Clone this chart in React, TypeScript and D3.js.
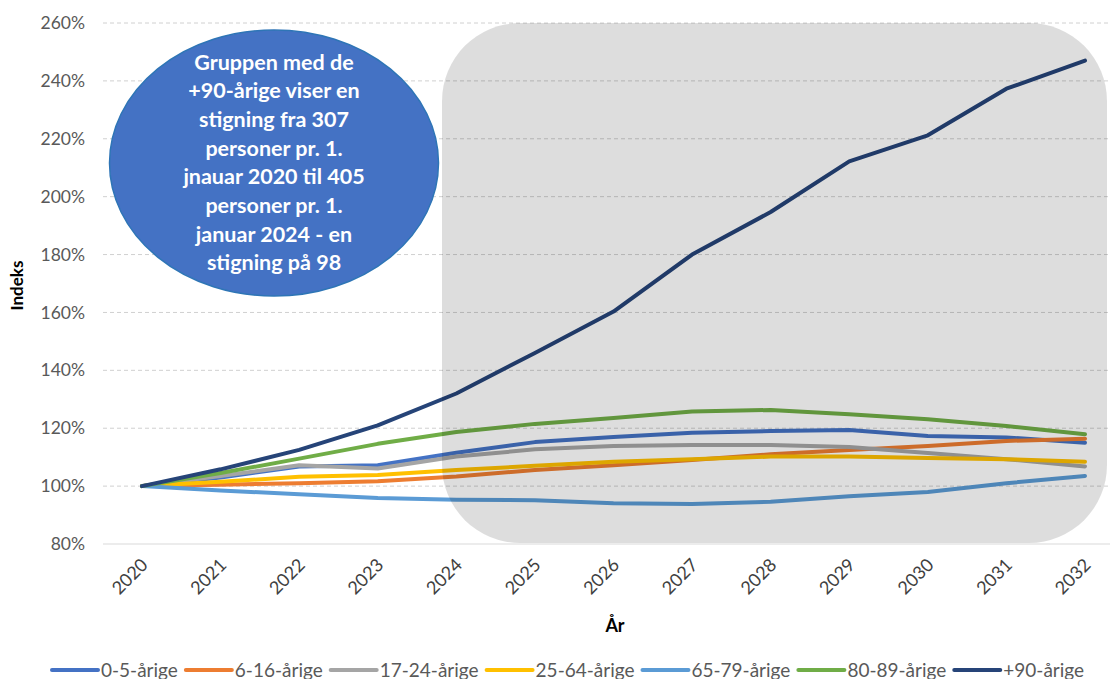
import React, { useEffect, useRef } from 'react';
import * as d3 from 'd3';

const years = ['2020', '2021', '2022', '2023', '2024', '2025', '2026', '2027', '2028', '2029', '2030', '2031', '2032'];

const yTicks = [80, 100, 120, 140, 160, 180, 200, 220, 240, 260];

const seriesNames = ['0-5-årige', '6-16-årige', '17-24-årige', '25-64-årige', '65-79-årige', '80-89-årige', '+90-årige'];
const seriesColors = ['#4472C4', '#ED7D31', '#A5A5A5', '#FFC000', '#5B9BD5', '#70AD47', '#264478'];

const age0to5 = [100, 103, 106.8, 107.2, 111.5, 115.2, 117, 118.4, 119, 119.4, 117.3, 116.8, 115];
const age6to16 = [100, 100.5, 101, 101.7, 103.3, 105.6, 107.2, 109, 111, 112.5, 113.9, 115.6, 116.4];
const age17to24 = [100, 103.5, 107.2, 106.1, 110.2, 112.7, 113.9, 114.2, 114.2, 113.5, 111.4, 109.3, 106.8];
const age25to64 = [100, 101.5, 103.2, 103.8, 105.6, 107, 108.4, 109.3, 110.2, 110.2, 109.7, 109.3, 108.4];
const age65to79 = [100, 98.5, 97.2, 95.9, 95.3, 95.1, 94.1, 93.8, 94.6, 96.5, 98, 101, 103.5];
const age80to89 = [100, 104.5, 109.5, 114.6, 118.7, 121.5, 123.5, 125.8, 126.3, 124.8, 123.1, 120.8, 117.9];
const age90plus = [100, 105.8, 112.5, 121, 132, 146, 160.3, 180, 194.7, 212.2, 221.2, 237.3, 247];

const annotationLines = [
  'Gruppen med de',
  '+90-årige viser en',
  'stigning fra 307',
  'personer pr. 1.',
  'jnauar 2020 til 405',
  'personer pr. 1.',
  'januar 2024 - en',
  'stigning på 98',
];

const W = 1110;
const H = 679;
const FONT = 'Lato, "Open Sans", sans-serif';

export default function App() {
  const ref = useRef<SVGSVGElement>(null);

  useEffect(() => {
    if (!ref.current) return;
    const svg = d3.select(ref.current);
    svg.selectAll('*').remove();

    const allSeries = [age0to5, age6to16, age17to24, age25to64, age65to79, age80to89, age90plus];

    const plotLeft = 103;
    const plotRight = 1124;
    const plotTop = 23;
    const plotBottom = 544;

    const x = d3.scalePoint<string>().domain(years).range([142, 1085]);
    const y = d3.scaleLinear().domain([80, 260]).range([plotBottom, plotTop]);

    svg.append('rect').attr('width', W).attr('height', H).attr('fill', '#fff');

    // grid
    svg
      .append('g')
      .selectAll('line')
      .data(yTicks.filter((t) => t !== 80))
      .join('line')
      .attr('x1', plotLeft)
      .attr('x2', plotRight)
      .attr('y1', (d) => y(d))
      .attr('y2', (d) => y(d))
      .attr('stroke', '#D0D0D0')
      .attr('stroke-width', 1)
      .attr('stroke-dasharray', '4,3');

    // x axis line
    svg
      .append('line')
      .attr('x1', plotLeft)
      .attr('x2', plotRight)
      .attr('y1', y(80))
      .attr('y2', y(80))
      .attr('stroke', '#D9D9D9')
      .attr('stroke-width', 1);

    // y tick labels
    svg
      .append('g')
      .selectAll('text')
      .data(yTicks)
      .join('text')
      .attr('x', 85)
      .attr('y', (d) => y(d))
      .attr('dy', '0.35em')
      .attr('text-anchor', 'end')
      .attr('font-family', FONT)
      .attr('font-size', 17.5)
      .attr('fill', '#595959')
      .text((d) => `${d}%`);

    // x tick labels
    svg
      .append('g')
      .selectAll('text')
      .data(years)
      .join('text')
      .attr('transform', (d) => `translate(${(x(d) as number) + 7},${plotBottom + 22}) rotate(-45)`)
      .attr('text-anchor', 'end')
      .attr('font-family', FONT)
      .attr('font-size', 18)
      .attr('fill', '#404040')
      .text((d) => d);

    // axis titles
    svg
      .append('text')
      .attr('transform', `translate(23,${(plotTop + plotBottom) / 2 + 2}) rotate(-90)`)
      .attr('text-anchor', 'middle')
      .attr('font-family', FONT)
      .attr('font-size', 17)
      .attr('font-weight', 'bold')
      .attr('fill', '#000')
      .text('Indeks');

    svg
      .append('text')
      .attr('x', 615)
      .attr('y', 632)
      .attr('text-anchor', 'middle')
      .attr('font-family', FONT)
      .attr('font-size', 18)
      .attr('font-weight', 'bold')
      .attr('fill', '#000')
      .text('År');

    // lines
    const line = d3
      .line<number>()
      .x((_, i) => x(years[i]) as number)
      .y((d) => y(d));

    svg
      .append('g')
      .selectAll('path')
      .data(allSeries)
      .join('path')
      .attr('d', (d) => line(d))
      .attr('fill', 'none')
      .attr('stroke', (_, i) => seriesColors[i])
      .attr('stroke-width', 4)
      .attr('stroke-linejoin', 'round')
      .attr('stroke-linecap', 'round');

    // gray highlight box
    svg
      .append('rect')
      .attr('x', 442)
      .attr('y', plotTop)
      .attr('width', 665)
      .attr('height', 520)
      .attr('rx', 78)
      .attr('ry', 78)
      .attr('fill', '#000')
      .attr('fill-opacity', 0.135);

    // annotation bubble
    svg
      .append('ellipse')
      .attr('cx', 274)
      .attr('cy', 163)
      .attr('rx', 164.5)
      .attr('ry', 133)
      .attr('fill', '#4472C4')
      .attr('stroke', '#2E75B6')
      .attr('stroke-width', 1.5);

    svg
      .append('g')
      .selectAll('text')
      .data(annotationLines)
      .join('text')
      .attr('x', 274)
      .attr('y', (_, i) => 62 + i * 28.7)
      .attr('dy', '0.35em')
      .attr('text-anchor', 'middle')
      .attr('font-family', FONT)
      .attr('font-size', 21.5)
      .attr('font-weight', 'bold')
      .attr('fill', '#fff')
      .text((d) => d);

    // legend
    const legend = svg.append('g');
    let cx = 52;
    const ly = 670;
    seriesNames.forEach((name, i) => {
      legend
        .append('line')
        .attr('x1', cx)
        .attr('x2', cx + 46)
        .attr('y1', ly)
        .attr('y2', ly)
        .attr('stroke', seriesColors[i])
        .attr('stroke-width', 4)
        .attr('stroke-linecap', 'round');
      const t = legend
        .append('text')
        .attr('x', cx + 49)
        .attr('y', ly)
        .attr('dy', '0.35em')
        .attr('font-family', FONT)
        .attr('font-size', 19)
        .attr('fill', '#595959')
        .text(name);
      const w = (t.node() as SVGTextElement).getComputedTextLength();
      cx = cx + 49 + w + 8;
    });
  }, []);

  return (
    <svg
      ref={ref}
      width={W}
      height={H}
      style={{ position: 'absolute', left: 0, top: 0, display: 'block' }}
    />
  );
}
